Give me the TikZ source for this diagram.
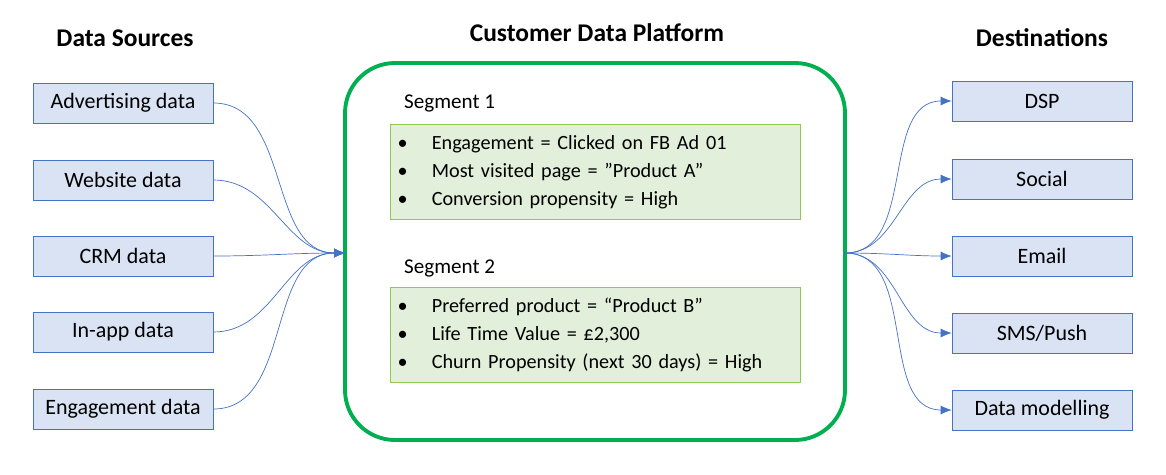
\documentclass[tikz,border=0pt]{standalone}
\usepackage{fontspec}
\setmainfont{Carlito}
\usetikzlibrary{arrows.meta,positioning}
\definecolor{srcfill}{HTML}{DAE3F3}
\definecolor{srcline}{HTML}{4472C4}
\definecolor{segfill}{HTML}{E2EFDA}
\definecolor{segline}{HTML}{8CCB4F}
\definecolor{cdpline}{HTML}{00B050}
\tikzset{
  srcbox/.style={draw=srcline, fill=srcfill, minimum width=3.6cm, minimum height=0.8cm, font=\fontsize{12.5}{14}\selectfont},
  segbox/.style={draw=segline, fill=segfill, minimum width=8.2cm, minimum height=1.9cm, align=left, text width=7.9cm, font=\fontsize{11.5}{16}\selectfont},
  flow/.style={draw=srcline, thin, -{Latex[length=2.2mm,width=1.8mm]}},
  heading/.style={font=\fontsize{14.5}{16}\selectfont\bfseries}
}
\newcommand{\bul}{\textbullet\hspace{1.2em}}
\begin{document}
\begin{tikzpicture}[x=0.02cm,y=-0.02cm]
  \useasboundingbox (0,0) rectangle (1166,474);
  % headings
  \node[heading] (hsrc) at (125,38) {Data Sources};
  \node[heading] (hcdp) at (597,33) {Customer Data Platform};
  \node[heading] (hdst) at (1042,38) {Destinations};
  % platform
  \draw[cdpline, line width=2.2pt, rounded corners=1cm] (345,63) rectangle (845,440);
  \coordinate (cin) at (345,253);
  \coordinate (cout) at (845,253);
  \node[anchor=west, font=\fontsize{12}{14}\selectfont] (s1) at (398,103) {Segment 1};
  \node[segbox] (seg1) at (595,172) {%
    \bul Engagement = Clicked on FB Ad 01\\
    \bul Most visited page = ”Product A”\\
    \bul Conversion propensity = High};
  \node[anchor=west, font=\fontsize{12}{14}\selectfont] (s2) at (398,268) {Segment 2};
  \node[segbox] (seg2) at (595,335) {%
    \bul Preferred product = “Product B”\\
    \bul Life Time Value = £2,300\\
    \bul Churn Propensity (next 30 days) = High};
  % sources
  \foreach \name/\txt/\y in {ad/Advertising data/103, web/Website data/180, crm/CRM data/256, app/In-app data/332, eng/Engagement data/409}{
    \node[srcbox] (\name) at (123,\y) {\txt};
    \draw[flow] (\name.east) to[out=0,in=180] (cin);
  }
  % destinations
  \foreach \name/\txt/\y in {dsp/DSP/101, soc/Social/179, mail/Email/256, sms/{SMS/Push}/333, dm/Data modelling/410}{
    \node[srcbox] (\name) at (1042,\y) {\txt};
    \draw[flow] (cout) to[out=0,in=180] (\name.west);
  }
\end{tikzpicture}
\end{document}
